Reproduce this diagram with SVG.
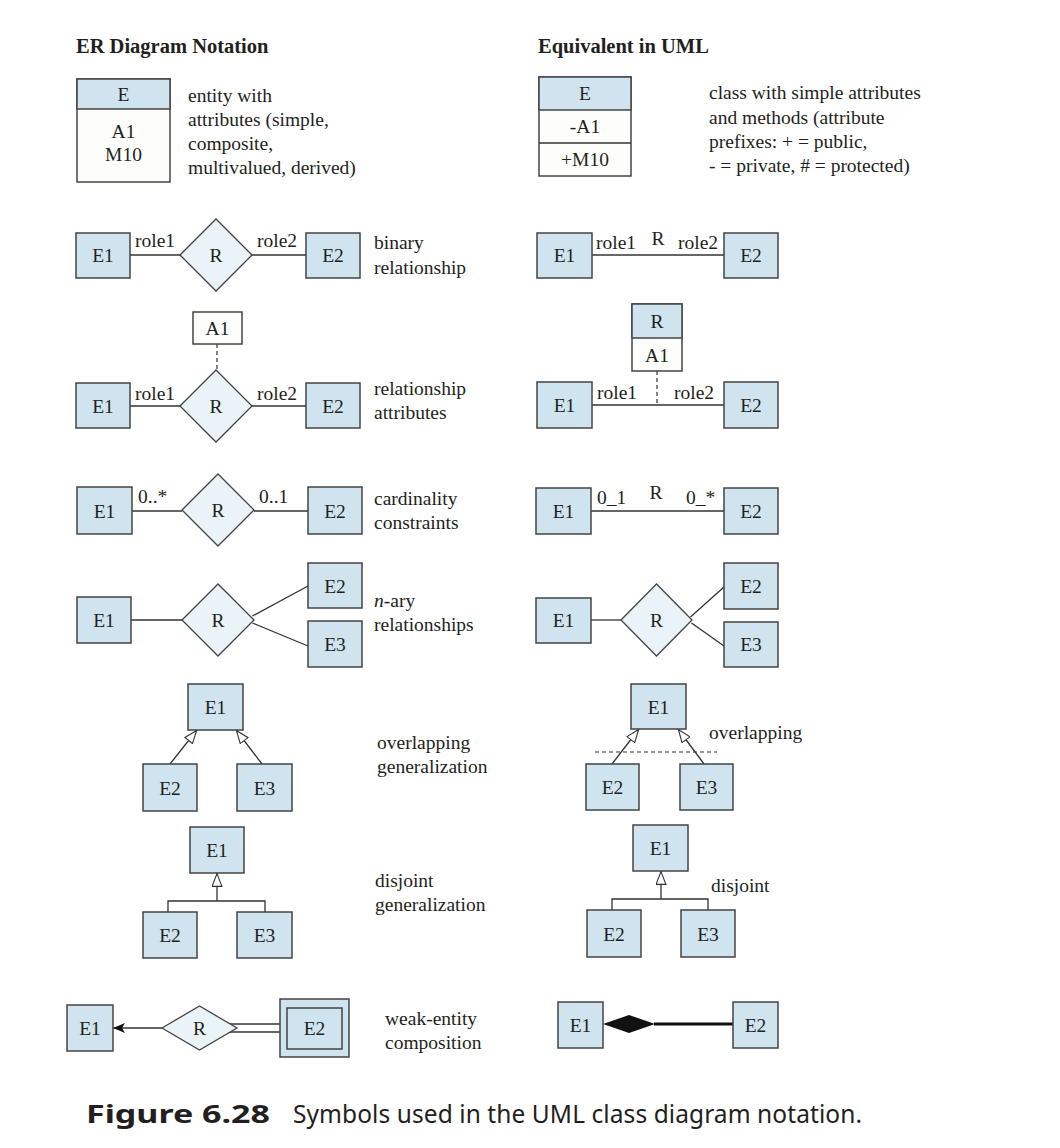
<svg xmlns="http://www.w3.org/2000/svg" width="1060" height="1148" viewBox="0 0 1060 1148">
<style>
text{font-family:"Liberation Serif","Times New Roman",serif;font-size:19.5px;fill:#231f20}
.h{font-weight:bold;font-size:20.5px}
.c{text-anchor:middle}
.ent{fill:#cfe4ef;stroke:#444;stroke-width:1.5}
.wht{fill:#fdfdfb;stroke:#444;stroke-width:1.5}
.rel{fill:#eaf4f8;stroke:#444;stroke-width:1.3}
.ln{stroke:#333;stroke-width:1.3;fill:none}
.dash{stroke:#333;stroke-width:1.2;fill:none;stroke-dasharray:4,3}
.cap{font-family:"Noto Sans","Open Sans",sans-serif;font-size:24.5px}
</style>
<defs>
<marker id="gen" viewBox="0 0 14 11" refX="14" refY="5.5" markerWidth="14" markerHeight="11" markerUnits="userSpaceOnUse" orient="auto">
<path d="M0.6,0.6 L13.4,5.5 L0.6,10.4 Z" fill="#fff" stroke="#333" stroke-width="1.1"/>
</marker>
<marker id="arr" viewBox="0 0 12 10" refX="12" refY="5" markerWidth="12" markerHeight="10" markerUnits="userSpaceOnUse" orient="auto">
<path d="M0,0 L12,5 L0,10 L3,5 Z" fill="#111"/>
</marker>
</defs>

<text class="h" x="76" y="53">ER Diagram Notation</text>
<text class="h" x="538" y="53">Equivalent in UML</text>

<!-- connectors -->
<g id="connectors">
<line class="ln" x1="130" y1="255" x2="180" y2="255"/>
<line class="ln" x1="252" y1="255" x2="306" y2="255"/>
<line class="ln" x1="592" y1="255" x2="724" y2="255"/>
<line class="dash" x1="217" y1="344" x2="217" y2="370"/>
<line class="ln" x1="130" y1="406" x2="180" y2="406"/>
<line class="ln" x1="252" y1="406" x2="306" y2="406"/>
<line class="dash" x1="657" y1="371" x2="657" y2="405"/>
<line class="ln" x1="592" y1="405" x2="724" y2="405"/>
<line class="ln" x1="132" y1="511" x2="182" y2="511"/>
<line class="ln" x1="254" y1="511" x2="308" y2="511"/>
<line class="ln" x1="591" y1="511" x2="724" y2="511"/>
<line class="ln" x1="131" y1="620" x2="182" y2="620"/>
<line class="ln" x1="252.5" y1="616" x2="308" y2="586"/>
<line class="ln" x1="252.5" y1="623" x2="308" y2="646"/>
<line class="ln" x1="591" y1="620" x2="621" y2="620"/>
<line class="ln" x1="690.5" y1="617" x2="724" y2="587"/>
<line class="ln" x1="691.5" y1="623" x2="724" y2="646"/>
<line class="ln" x1="170" y1="764" x2="197" y2="730" marker-end="url(#gen)"/>
<line class="ln" x1="262" y1="764" x2="236" y2="730" marker-end="url(#gen)"/>
<line class="ln" x1="612" y1="764" x2="639" y2="729" marker-end="url(#gen)"/>
<line class="ln" x1="704" y1="764" x2="678" y2="729" marker-end="url(#gen)"/>
<line class="dash" x1="595" y1="752" x2="717" y2="752"/>
<line class="ln" x1="217" y1="901" x2="217" y2="873" marker-end="url(#gen)"/>
<polyline class="ln" points="168,912 168,901 265,901 265,912"/>
<line class="ln" x1="661" y1="899" x2="661" y2="871" marker-end="url(#gen)"/>
<polyline class="ln" points="612,910 612,899 708,899 708,910"/>
<line class="ln" x1="162" y1="1028" x2="113" y2="1028" stroke-width="1.6" marker-end="url(#arr)"/>
<line class="ln" x1="229" y1="1024" x2="280" y2="1024"/>
<line class="ln" x1="229" y1="1032" x2="280" y2="1032"/>
<line x1="654" y1="1024" x2="733" y2="1024" stroke="#111" stroke-width="3"/>
</g>

<!-- ER: entity -->
<g id="er-entity">
<rect class="wht" x="77" y="79" width="93" height="103"/>
<rect class="ent" x="77" y="79" width="93" height="30"/>
<text class="c" x="123.5" y="101">E</text>
<text class="c" x="123.5" y="138">A1</text>
<text class="c" x="123.5" y="161">M10</text>
</g>
<text x="188" y="102">entity with</text>
<text x="188" y="126">attributes (simple,</text>
<text x="188" y="150">composite,</text>
<text x="188" y="174">multivalued, derived)</text>

<!-- UML: class -->
<g id="uml-class">
<rect class="wht" x="539" y="77" width="92" height="99"/>
<rect class="ent" x="539" y="77" width="92" height="33"/>
<line class="ln" x1="539" y1="143" x2="631" y2="143" stroke="#444" stroke-width="1.5"/>
<text class="c" x="585" y="100">E</text>
<text class="c" x="585" y="133">-A1</text>
<text class="c" x="585" y="166">+M10</text>
</g>
<text x="709" y="99">class with simple attributes</text>
<text x="709" y="124">and methods (attribute</text>
<text x="709" y="148">prefixes: + = public,</text>
<text x="709" y="172">- = private, # = protected)</text>

<!-- binary -->
<g id="er-bin-e1"><rect class="ent" x="76" y="233" width="54" height="45"/><text class="c" x="103" y="262">E1</text></g>
<g id="er-bin-r"><polygon class="rel" points="180,255 216,219 252,255 216,291"/><text class="c" x="216" y="262">R</text></g>
<g id="er-bin-e2"><rect class="ent" x="306" y="233" width="54" height="45"/><text class="c" x="333" y="262">E2</text></g>
<text x="135" y="247">role1</text>
<text x="257" y="247">role2</text>
<text x="374" y="249">binary</text>
<text x="374" y="274">relationship</text>

<g id="uml-bin-e1"><rect class="ent" x="537" y="233" width="55" height="45"/><text class="c" x="564.5" y="262">E1</text></g>
<g id="uml-bin-e2"><rect class="ent" x="724" y="233" width="54" height="45"/><text class="c" x="751" y="262">E2</text></g>
<text x="596" y="249">role1</text>
<text class="c" x="658" y="245">R</text>
<text x="678" y="249">role2</text>

<!-- relationship attributes -->
<g id="er-att-a1"><rect class="wht" x="193" y="312" width="49" height="32"/><text class="c" x="217.5" y="335">A1</text></g>
<g id="er-att-e1"><rect class="ent" x="76" y="383" width="54" height="45"/><text class="c" x="103" y="413">E1</text></g>
<g id="er-att-r"><polygon class="rel" points="180,406 216,370 252,406 216,442"/><text class="c" x="216" y="413">R</text></g>
<g id="er-att-e2"><rect class="ent" x="306" y="383" width="54" height="45"/><text class="c" x="333" y="413">E2</text></g>
<text x="135" y="400">role1</text>
<text x="257" y="400">role2</text>
<text x="374" y="395">relationship</text>
<text x="374" y="419">attributes</text>

<g id="uml-att-r"><rect class="wht" x="632" y="304" width="50" height="67"/><rect class="ent" x="632" y="304" width="50" height="34"/><text class="c" x="657" y="328">R</text><text class="c" x="657" y="362">A1</text></g>
<g id="uml-att-e1"><rect class="ent" x="537" y="382" width="55" height="46"/><text class="c" x="564.5" y="412">E1</text></g>
<g id="uml-att-e2"><rect class="ent" x="724" y="382" width="54" height="46"/><text class="c" x="751" y="412">E2</text></g>
<text x="597" y="399">role1</text>
<text x="674" y="399">role2</text>

<!-- cardinality -->
<g id="er-card-e1"><rect class="ent" x="77" y="487" width="55" height="47"/><text class="c" x="104.5" y="518">E1</text></g>
<g id="er-card-r"><polygon class="rel" points="182,510 218,474 254,510 218,546"/><text class="c" x="218" y="517">R</text></g>
<g id="er-card-e2"><rect class="ent" x="308" y="487" width="54" height="47"/><text class="c" x="335" y="518">E2</text></g>
<text x="138" y="503">0..*</text>
<text x="259" y="503">0..1</text>
<text x="374" y="505">cardinality</text>
<text x="374" y="529">constraints</text>

<g id="uml-card-e1"><rect class="ent" x="536" y="488" width="55" height="46"/><text class="c" x="563.5" y="518">E1</text></g>
<g id="uml-card-e2"><rect class="ent" x="724" y="488" width="54" height="46"/><text class="c" x="751" y="518">E2</text></g>
<text x="597" y="504">0_1</text>
<text class="c" x="656" y="499">R</text>
<text x="686" y="504">0_*</text>

<!-- n-ary -->
<g id="er-nary-e1"><rect class="ent" x="77" y="597" width="54" height="46"/><text class="c" x="104" y="627">E1</text></g>
<g id="er-nary-r"><polygon class="rel" points="182,620 218,584 254,620 218,656"/><text class="c" x="218" y="627">R</text></g>
<g id="er-nary-e2"><rect class="ent" x="308" y="563" width="54" height="45"/><text class="c" x="335" y="593">E2</text></g>
<g id="er-nary-e3"><rect class="ent" x="308" y="621" width="54" height="46"/><text class="c" x="335" y="651">E3</text></g>
<text x="374" y="607"><tspan font-style="italic">n</tspan>-ary</text>
<text x="374" y="631">relationships</text>

<g id="uml-nary-e1"><rect class="ent" x="536" y="598" width="55" height="45"/><text class="c" x="563.5" y="627">E1</text></g>
<g id="uml-nary-r"><polygon class="rel" points="621,620 656.5,584 692,620 656.5,656"/><text class="c" x="656.5" y="627">R</text></g>
<g id="uml-nary-e2"><rect class="ent" x="724" y="563" width="54" height="46"/><text class="c" x="751" y="593">E2</text></g>
<g id="uml-nary-e3"><rect class="ent" x="724" y="622" width="54" height="45"/><text class="c" x="751" y="651">E3</text></g>

<!-- overlapping -->
<g id="er-ov-e1"><rect class="ent" x="188" y="684" width="55" height="46"/><text class="c" x="215.5" y="714">E1</text></g>
<g id="er-ov-e2"><rect class="ent" x="143" y="764" width="54" height="47"/><text class="c" x="170" y="795">E2</text></g>
<g id="er-ov-e3"><rect class="ent" x="237" y="764" width="55" height="47"/><text class="c" x="264.5" y="795">E3</text></g>
<text x="377" y="749">overlapping</text>
<text x="377" y="773">generalization</text>

<g id="uml-ov-e1"><rect class="ent" x="631" y="684" width="55" height="45"/><text class="c" x="658.5" y="714">E1</text></g>
<g id="uml-ov-e2"><rect class="ent" x="586" y="764" width="53" height="46"/><text class="c" x="612.5" y="794">E2</text></g>
<g id="uml-ov-e3"><rect class="ent" x="680" y="764" width="53" height="46"/><text class="c" x="706.5" y="794">E3</text></g>
<text x="709" y="739">overlapping</text>

<!-- disjoint -->
<g id="er-dj-e1"><rect class="ent" x="190" y="827" width="54" height="46"/><text class="c" x="217" y="857">E1</text></g>
<g id="er-dj-e2"><rect class="ent" x="143" y="912" width="54" height="46"/><text class="c" x="170" y="942">E2</text></g>
<g id="er-dj-e3"><rect class="ent" x="237" y="912" width="55" height="46"/><text class="c" x="264.5" y="942">E3</text></g>
<text x="375" y="887">disjoint</text>
<text x="375" y="911">generalization</text>

<g id="uml-dj-e1"><rect class="ent" x="633" y="825" width="55" height="46"/><text class="c" x="660.5" y="855">E1</text></g>
<g id="uml-dj-e2"><rect class="ent" x="587" y="910" width="54" height="47"/><text class="c" x="614" y="941">E2</text></g>
<g id="uml-dj-e3"><rect class="ent" x="681" y="910" width="54" height="47"/><text class="c" x="708" y="941">E3</text></g>
<text x="711" y="892">disjoint</text>

<!-- weak entity -->
<g id="er-wk-e1"><rect class="ent" x="67" y="1005" width="46" height="46"/><text class="c" x="90" y="1035">E1</text></g>
<g id="er-wk-r"><polygon class="rel" points="162,1028 199.5,1006 237,1028 199.5,1050"/><text class="c" x="199.5" y="1035">R</text></g>
<g id="er-wk-e2"><rect class="ent" x="280" y="999" width="69" height="58"/><rect class="ent" x="287" y="1008" width="55" height="41"/><text class="c" x="314.5" y="1035">E2</text></g>
<text x="385" y="1025">weak-entity</text>
<text x="385" y="1049">composition</text>

<g id="uml-wk-e1"><rect class="ent" x="558" y="1002" width="45" height="46"/><text class="c" x="580.5" y="1032">E1</text></g>
<polygon points="603,1024 629,1015 655,1024 629,1033" fill="#111"/>
<g id="uml-wk-e2"><rect class="ent" x="733" y="1002" width="45" height="46"/><text class="c" x="755.5" y="1032">E2</text></g>

<text class="cap" x="86" y="1123" font-weight="bold" font-size="26px" textLength="184" lengthAdjust="spacingAndGlyphs">Figure 6.28</text>
<text class="cap" x="293" y="1123" textLength="569" lengthAdjust="spacing">Symbols used in the UML class diagram notation.</text>
</svg>
